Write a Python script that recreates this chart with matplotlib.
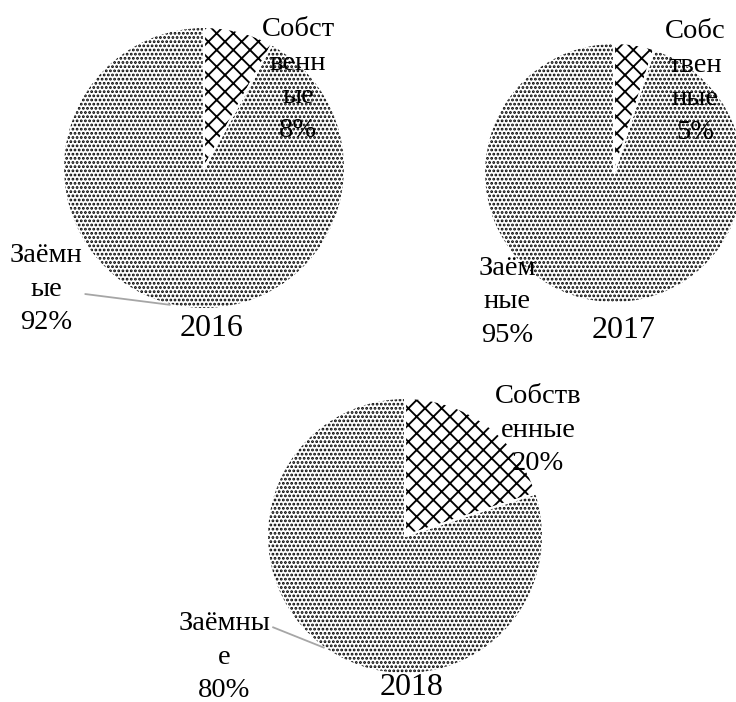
import numpy as np
import matplotlib
matplotlib.use("Agg")
import matplotlib.pyplot as plt

# --- DATA ---
years = ['2016', '2017', '2018']
own_share = [8, 5, 20]          # Собственные, %
borrowed_share = [92, 95, 80]   # Заёмные, %
# label text as broken in the original chart
own_labels = ['Собст\nвенн\nые', 'Собс\nтвен\nные', 'Собств\nенные']
borrowed_labels = ['Заёмн\nые', 'Заём\nные', 'Заёмны\nе']

# --- LAYOUT (pixels of the 736x702 picture) ---
W, H = 736, 702
centers = [(204, 168, 141), (614, 173, 130), (405, 536, 138)]
own_pos = [(0.667, 0.625), (0.623, 0.70), (0.964, 0.765)]
borrowed_pos = [(-1.12, -0.86), (-0.823, -0.99), (-1.31, -0.88)]
title_pos = [(0.057, -1.14), (0.077, -1.21), (0.051, -1.095)]
leader = [(256, (0.82, 0.47)), None, (234, (1.0, 0.84))]

plt.rcParams['font.family'] = ['Liberation Serif', 'DejaVu Serif']
plt.rcParams['hatch.linewidth'] = 1.35

fig = plt.figure(figsize=(W / 100, H / 100), dpi=100)

for i, (cx, cy, r) in enumerate(centers):
    ax = fig.add_axes([(cx - r) / W, (H - cy - r) / H, 2 * r / W, 2 * r / H])
    vals = [own_share[i], borrowed_share[i]]

    wedges, _ = ax.pie(vals, startangle=90, counterclock=False, radius=1,
                       wedgeprops=dict(facecolor='white', edgecolor='black', linewidth=0))
    wedges[0].set_hatch('xx')
    wedges[1].set_hatch('....')
    # white separators between slices
    ax.pie(vals, startangle=90, counterclock=False, radius=1,
           wedgeprops=dict(fill=False, edgecolor='white', linewidth=1.5))

    ax.set_xlim(-1, 1)
    ax.set_ylim(-1, 1)
    ax.set_aspect('auto')
    ax.axis('off')

    ax.text(*own_pos[i], f"{own_labels[i]}\n{own_share[i]}%", ha='center', va='center',
            fontsize=20.5, linespacing=1.45, clip_on=False)

    btxt = f"{borrowed_labels[i]}\n{borrowed_share[i]}%"
    if leader[i] is None:
        ax.text(*borrowed_pos[i], btxt, ha='center', va='center',
                fontsize=20.5, linespacing=1.45, clip_on=False)
    else:
        ang, rel = leader[i]
        tip = (np.cos(np.radians(ang)), np.sin(np.radians(ang)))
        ax.annotate(btxt, xy=tip, xytext=borrowed_pos[i], ha='center', va='center',
                    fontsize=20.5, linespacing=1.45, annotation_clip=False,
                    arrowprops=dict(arrowstyle='-', color='#a6a6a6', lw=1.3,
                                    shrinkA=0, shrinkB=0, relpos=rel))

    ax.text(*title_pos[i], years[i], ha='center', va='center', fontsize=23, clip_on=False)

fig.savefig('out.png', dpi=100, facecolor='white')
